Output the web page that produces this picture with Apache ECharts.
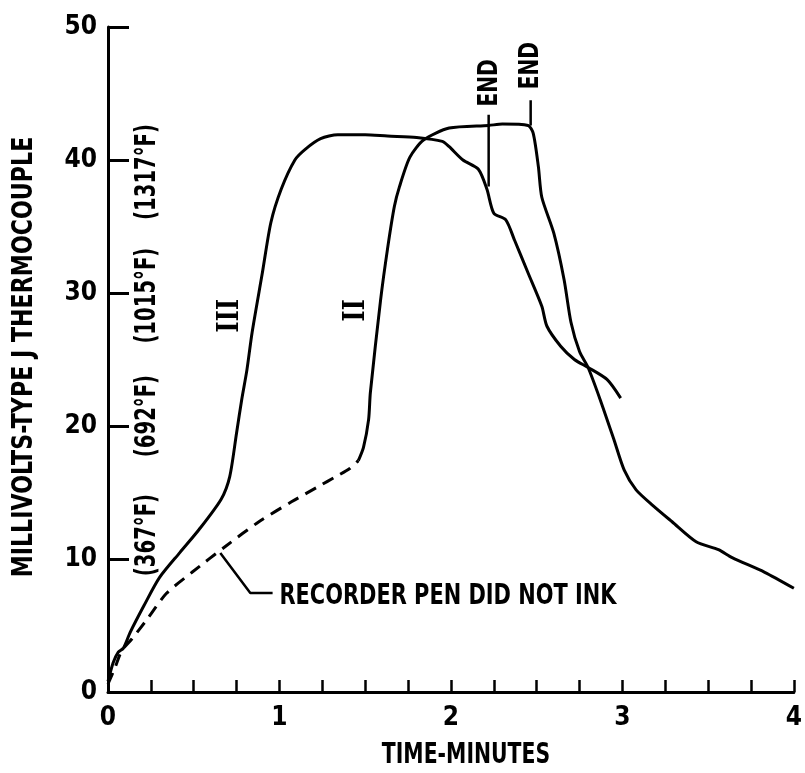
<!DOCTYPE html>
<html><head><meta charset="utf-8">
<script src="https://cdn.jsdelivr.net/npm/echarts@6/dist/echarts.min.js"></script>
<style>html,body{margin:0;padding:0;background:#fff}#c{width:805px;height:773px}</style>
</head><body><div id="c"></div>
<script>
// ---- data ----
const xTickLabels = ['0','1','2','3','4'];
const yTickLabels = ['0','10','20','30','40','50'];

// Curve III (solid)
const curveIII = [[0,0.8],[0.03,2.2],[0.06,3.0],[0.09,3.3],[0.13,4.5],[0.21,6.5],[0.30,8.6],[0.42,10.5],[0.53,12.2],[0.66,14.5],[0.71,16.2],[0.75,19.5],[0.78,22.0],[0.81,24.2],[0.84,27.0],[0.90,31.5],[0.95,35.3],[1.01,37.8],[1.09,40.0],[1.15,40.8],[1.24,41.6],[1.34,41.9],[1.50,41.9],[1.63,41.8],[1.80,41.7],[1.95,41.4],[1.99,41.0],[2.07,40.0],[2.16,39.3],[2.21,37.8],[2.25,36.0],[2.32,35.5],[2.37,34.0],[2.45,31.5],[2.53,29.0],[2.56,27.5],[2.64,26.0],[2.72,25.0],[2.80,24.4],[2.91,23.5],[2.99,22.1]];
// Curve II, part where the recorder pen did not ink (dashed)
const curveIIdashed = [[0,0.6],[0.04,1.8],[0.08,3.1],[0.14,4.0],[0.23,5.5],[0.34,7.4],[0.49,9.0],[0.69,11.0],[0.88,12.8],[1.07,14.3],[1.22,15.4],[1.33,16.2],[1.41,16.8],[1.46,17.4]];
// Curve II (solid)
const curveIIsolid = [[1.46,17.4],[1.49,18.4],[1.52,20.5],[1.53,22.5],[1.59,29.5],[1.63,33.3],[1.67,36.5],[1.70,38.0],[1.76,40.2],[1.84,41.5],[1.99,42.4],[2.22,42.6],[2.30,42.7],[2.45,42.6],[2.48,42.0],[2.51,39.5],[2.53,37.2],[2.60,34.5],[2.66,31.0],[2.70,27.8],[2.75,25.6],[2.80,24.4],[2.87,22.0],[2.95,19.0],[3.01,16.7],[3.08,15.2],[3.18,14.0],[3.29,12.8],[3.43,11.3],[3.56,10.7],[3.64,10.1],[3.83,9.0],[4.0,7.8]];
// END marker lines
const endLineIII = [[2.22,38.0],[2.22,43.4]];
const endLineII = [[2.465,42.6],[2.465,44.5]];
// leader line of the note
const leaderLine = [[0.655,10.45],[0.83,7.45],[0.96,7.45]];

// text annotations
const tempLabels = ['(367°F)','(692°F)','(1015°F)','(1317°F)'];
const tempLabelX = 0.23;
const tempLabelY = [11.8,20.75,29.8,39.1];
const endLabels = [{text:'END', at:[2.23,45.8]},{text:'END', at:[2.47,47.1]}];
const romanLabels = [{text:'III', at:[0.71,28.3]},{text:'II', at:[1.45,28.7]}];
const noteText = 'RECORDER PEN DID NOT INK';
const noteAt = [1.0, 7.2];
const xTitle = 'TIME-MINUTES';
const yTitle = 'MILLIVOLTS-TYPE J THERMOCOUPLE';

const FONT = "'DejaVu Sans Condensed','Liberation Sans Narrow',sans-serif";
const chart = echarts.init(document.getElementById('c'), null, {renderer:'canvas'});
const lineBase = {type:'line', showSymbol:false, symbol:'none', smooth:0.25, silent:true,
  lineStyle:{color:'#000', width:3}};
chart.setOption({
  animation:false,
  backgroundColor:'#fff',
  grid:{left:108, right:1, top:27, bottom:81, containLabel:false},
  xAxis:{type:'value', min:0, max:4, interval:1,
    axisLine:{show:true, lineStyle:{color:'#000', width:3}},
    axisTick:{show:true, inside:true, length:12, lineStyle:{color:'#000', width:2.5}},
    minorTick:{show:true, splitNumber:4, length:12, lineStyle:{color:'#000', width:2.5}},
    splitLine:{show:false},
    axisLabel:{margin:13, color:'#000', fontSize:26, fontWeight:'bold', fontFamily:FONT,
      showMaxLabel:true, alignMaxLabel:'center', formatter:(v)=>xTickLabels[Math.round(v)]}
  },
  yAxis:{type:'value', min:0, max:50, interval:10,
    axisLine:{show:true, lineStyle:{color:'#000', width:3}},
    axisTick:{show:true, inside:true, length:21, lineStyle:{color:'#000', width:3}},
    splitLine:{show:false},
    axisLabel:{margin:11, color:'#000', fontSize:26, fontWeight:'bold', fontFamily:FONT,
      formatter:(v)=>yTickLabels[Math.round(v/10)]}
  },
  series:[
    Object.assign({}, lineBase, {name:'III', data:curveIII}),
    Object.assign({}, lineBase, {name:'II dashed', data:curveIIdashed, lineStyle:{color:'#000', width:3, type:[12,8]}}),
    Object.assign({}, lineBase, {name:'II', data:curveIIsolid}),
    Object.assign({}, lineBase, {name:'end III', smooth:false, data:endLineIII, lineStyle:{color:'#000', width:2.5}}),
    Object.assign({}, lineBase, {name:'end II', smooth:false, data:endLineII, lineStyle:{color:'#000', width:2.5}}),
    Object.assign({}, lineBase, {name:'leader', smooth:false, data:leaderLine, lineStyle:{color:'#000', width:2.5}})
  ]
});

function px(p){ return chart.convertToPixel({gridIndex:0}, p); }
function txt(text, pos, opt){
  opt = opt || {};
  return {type:'text', x:pos[0], y:pos[1], rotation:opt.rot||0, scaleX:opt.sx||1, scaleY:1, silent:true,
    style:{text:text, fill:'#000', fontSize:opt.size||28, fontWeight:'bold',
      fontFamily:opt.family||FONT, align:opt.align||'center', verticalAlign:'middle',
      textAlign:opt.align||'center', textVerticalAlign:'middle'}};
}
const g = [];
tempLabels.forEach((t,i)=>{ g.push(txt(t, px([tempLabelX, tempLabelY[i]]), {rot:Math.PI/2, sx:0.78})); });
endLabels.forEach(e=>{ g.push(txt(e.text, px(e.at), {rot:Math.PI/2, size:26, sx:0.86})); });
romanLabels.forEach(r=>{ g.push(txt(r.text, px(r.at), {rot:Math.PI/2, size:30, sx:0.8, family:"'DejaVu Serif','Liberation Serif',serif"})); });
g.push(txt(noteText, px(noteAt), {align:'left', sx:0.83}));
g.push(txt(xTitle, [466, 756], {sx:0.81}));
g.push(txt(yTitle, [25, 357], {rot:Math.PI/2, sx:0.88}));
chart.setOption({graphic:g});
</script>
</body></html>
